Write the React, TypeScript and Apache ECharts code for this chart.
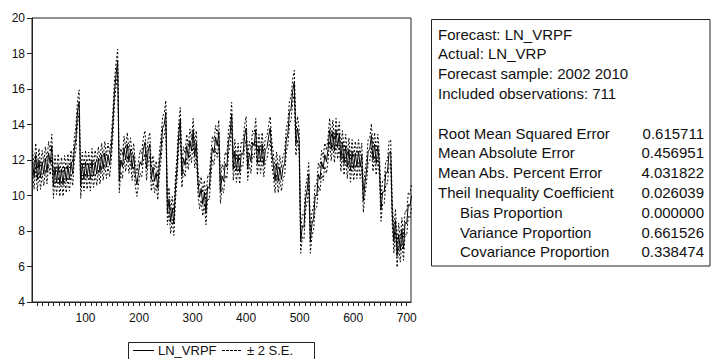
import React, { useEffect, useRef } from "react";
import * as echarts from "echarts";

// Forecast LN_VRPF, read every 3rd observation (obs = 1 + 3*i)
const obsStep = 3;
const forecast: number[] = [
  11.9, 11.0, 12.3, 10.9, 12.0, 11.0, 11.9, 11.2, 12.1, 11.3, 12.4, 11.8, 12.8,
  10.5, 11.6, 10.7, 11.7, 10.6, 11.5, 10.6, 11.6, 10.8,
  11.7, 10.9, 11.9, 11.2, 12.6, 13.2, 14.7, 15.3,
  10.5, 11.8, 10.9, 11.9, 11.0, 11.8, 10.9, 12.0, 11.1, 11.9, 11.2, 12.1, 11.3, 12.3, 11.5, 12.4, 11.6, 12.3, 11.7,
  12.6, 14.0, 15.8, 16.8, 17.6,
  10.8, 12.0, 11.6, 12.7, 12.0, 12.9, 11.9, 12.6, 11.5, 12.3, 11.2, 10.6,
  11.3, 11.9, 11.7, 12.6, 13.0, 11.5, 12.5, 12.9, 10.9, 11.6, 10.8, 11.3, 10.4,
  11.8, 12.6, 13.8, 14.0, 14.7,
  9.0, 9.8, 8.5, 9.3, 8.4, 10.4, 11.6, 13.4, 14.3,
  11.1, 12.1, 11.7, 12.8, 12.1, 13.1, 12.5, 13.7, 12.2, 13.0,
  10.8, 9.9, 10.4, 9.5, 10.2, 9.0, 10.5, 10.4,
  11.6, 12.7, 12.4, 13.3, 12.8, 13.6,
  10.2, 11.1, 10.8, 11.8, 11.6, 13.0, 13.5, 14.6,
  11.5, 12.5, 11.4, 12.3, 11.3,
  12.4, 12.3, 13.3, 13.8,
  11.5, 12.4, 11.9, 13.0, 12.8, 13.7,
  11.8, 12.8, 11.9, 12.9, 11.7, 12.6,
  12.7, 13.3, 13.8, 12.4,
  11.7, 10.8, 11.8, 10.8, 11.6, 10.9, 11.6,
  11.8, 13.1, 13.5, 14.7, 14.9, 15.9, 16.4,
  12.9, 13.8, 13.1,
  7.4, 8.3, 8.2, 9.8, 10.3, 11.2,
  7.4, 8.4, 8.7, 10.0, 10.0, 11.2, 10.9, 11.9, 11.5, 12.3, 11.9,
  12.6, 13.7, 12.6, 13.6, 12.5, 13.7, 12.7, 13.5,
  12.0, 13.0, 11.8, 12.8, 11.6, 12.6, 11.4, 12.5, 11.5, 12.4, 11.6, 12.5, 11.6, 12.3, 9.7, 10.7,
  11.4, 12.5, 12.6, 13.4, 12.0, 12.9, 11.8, 12.8, 11.7,
  9.2, 10.2, 10.2, 11.3, 11.3, 12.4, 12.5,
  9.0, 7.4, 8.6, 6.6, 7.8, 6.9, 8.1, 7.0, 8.5, 8.4, 9.5, 9.4, 10.0,
];
const twoSE = 0.65;

const yTicks = [4, 6, 8, 10, 12, 14, 16, 18, 20];
const xTickLabels = [100, 200, 300, 400, 500, 600, 700];

const legendNames = ["LN_VRPF", "± 2 S.E."];

const headerLines = [
  "Forecast: LN_VRPF",
  "Actual: LN_VRP",
  "Forecast sample: 2002 2010",
  "Included observations: 711",
];
const statNames = [
  "Root Mean Squared Error",
  "Mean Absolute Error",
  "Mean Abs. Percent Error",
  "Theil Inequality Coefficient",
  "Bias Proportion",
  "Variance Proportion",
  "Covariance Proportion",
];
const statValues = ["0.615711", "0.456951", "4.031822", "0.026039", "0.000000", "0.661526", "0.338474"];
const statIndented = [false, false, false, false, true, true, true];

const FONT = "Arial, 'Liberation Sans', sans-serif";

export default function App() {
  const ref = useRef<HTMLDivElement>(null);
  useEffect(() => {
    if (!ref.current) return;
    const chart = echarts.init(ref.current, null, { renderer: "svg" });
    const fData = forecast.map((v, i) => [1 + obsStep * i, v]);
    const uData = forecast.map((v, i) => [1 + obsStep * i, +(v + twoSE).toFixed(2)]);
    const lData = forecast.map((v, i) => [1 + obsStep * i, +(v - twoSE).toFixed(2)]);

    const textColor = "#111";
    const tableX = 438;
    const indentX = 460;
    const valueX = 704;
    const headerY0 = 34;
    const statY0 = 133;
    const lineH = 19.8;

    const graphics: any[] = [
      {
        type: "rect",
        shape: { x: 431.5, y: 19.5, width: 278.5, height: 246.5 },
        style: { fill: "#fff", stroke: "#222", lineWidth: 1 },
        z: 10,
      },
    ];
    headerLines.forEach((t, i) => {
      graphics.push({
        type: "text",
        x: tableX,
        y: headerY0 + i * lineH,
        z: 11,
        style: { text: t, font: `15px ${FONT}`, fill: textColor, align: "left", verticalAlign: "middle" },
      });
    });
    statNames.forEach((t, i) => {
      graphics.push({
        type: "text",
        x: statIndented[i] ? indentX : tableX,
        y: statY0 + i * lineH,
        z: 11,
        style: { text: t, font: `15px ${FONT}`, fill: textColor, align: "left", verticalAlign: "middle" },
      });
      graphics.push({
        type: "text",
        x: valueX,
        y: statY0 + i * lineH,
        z: 11,
        style: { text: statValues[i], font: `15px ${FONT}`, fill: textColor, align: "right", verticalAlign: "middle" },
      });
    });

    // legend box
    const legY = 350.5;
    graphics.push(
      {
        type: "rect",
        shape: { x: 128.5, y: 342.5, width: 186, height: 20 },
        style: { fill: "#fff", stroke: "#222", lineWidth: 1 },
        z: 10,
      },
      {
        type: "line",
        shape: { x1: 133, y1: legY, x2: 154, y2: legY },
        style: { stroke: "#000", lineWidth: 1 },
        z: 11,
      },
      {
        type: "text",
        x: 158,
        y: legY,
        z: 11,
        style: { text: legendNames[0], font: `13px ${FONT}`, fill: textColor, align: "left", verticalAlign: "middle" },
      },
      {
        type: "line",
        shape: { x1: 222, y1: legY, x2: 242, y2: legY },
        style: { stroke: "#000", lineWidth: 1, lineDash: [3, 1] },
        z: 11,
      },
      {
        type: "text",
        x: 247,
        y: legY,
        z: 11,
        style: { text: legendNames[1], font: `13px ${FONT}`, fill: textColor, align: "left", verticalAlign: "middle" },
      }
    );

    chart.setOption({
      animation: false,
      backgroundColor: "#fff",
      grid: {
        left: 32,
        top: 18,
        width: 379,
        height: 284,
        show: true,
        borderColor: "#222",
        borderWidth: 1,
        backgroundColor: "transparent",
      },
      xAxis: {
        type: "value",
        min: 0,
        max: 708,
        interval: 10,
        axisLine: { show: true, lineStyle: { color: "#222", width: 1 } },
        axisTick: { show: true, inside: false, length: 4, lineStyle: { color: "#222" } },
        splitLine: { show: false },
        axisLabel: {
          color: textColor,
          fontFamily: FONT,
          fontSize: 12,
          margin: 10,
          showMinLabel: false,
          showMaxLabel: false,
          formatter: (v: number) => (xTickLabels.includes(v) ? String(v) : ""),
        },
      },
      yAxis: {
        type: "value",
        min: 4,
        max: 20,
        interval: 2,
        axisLine: { show: true, lineStyle: { color: "#222", width: 1 } },
        axisTick: { show: true, inside: false, length: 5, lineStyle: { color: "#222" } },
        splitLine: { show: false },
        axisLabel: {
          color: textColor,
          fontFamily: FONT,
          fontSize: 12,
          margin: 7,
          formatter: (v: number) => (yTicks.includes(v) ? String(v) : ""),
        },
      },
      series: [
        {
          name: legendNames[0],
          type: "line",
          data: fData,
          symbol: "none",
          showSymbol: false,
          lineStyle: { color: "#000", width: 1 },
          itemStyle: { color: "#000" },
          z: 3,
        },
        {
          name: legendNames[1],
          type: "line",
          data: uData,
          symbol: "none",
          showSymbol: false,
          lineStyle: { color: "#000", width: 1, type: [2, 2] },
          itemStyle: { color: "#000" },
          z: 2,
        },
        {
          name: legendNames[1],
          type: "line",
          data: lData,
          symbol: "none",
          showSymbol: false,
          lineStyle: { color: "#000", width: 1, type: [2, 2] },
          itemStyle: { color: "#000" },
          z: 2,
        },
      ],
      graphic: graphics,
    });
    return () => chart.dispose();
  }, []);
  return (
    <div
      ref={ref}
      style={{ position: "fixed", left: 0, top: 0, width: 711, height: 359, background: "#fff" }}
    />
  );
}
